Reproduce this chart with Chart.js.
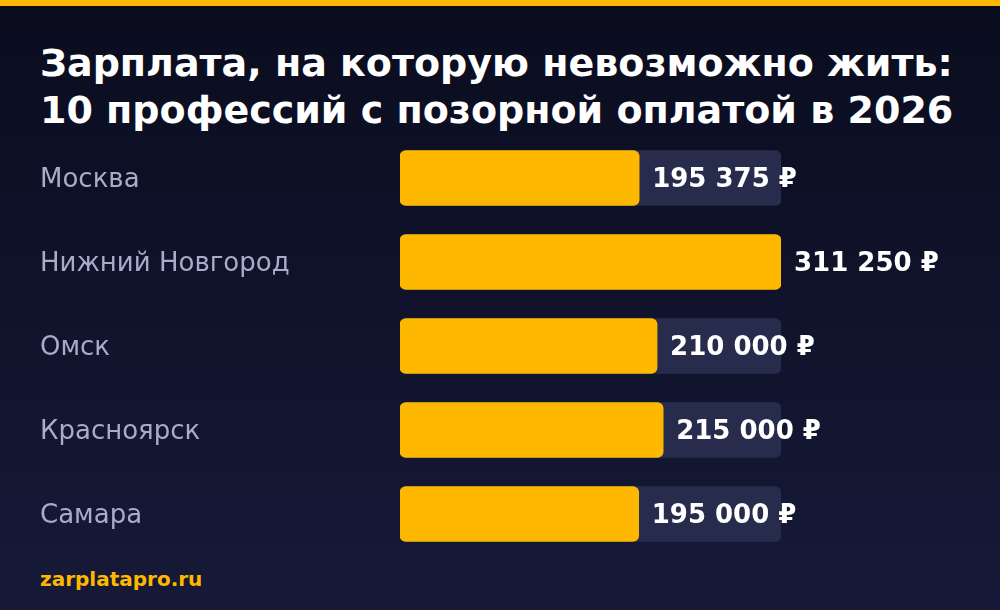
<!DOCTYPE html>
<html><head><meta charset="utf-8">
<script src="https://cdn.jsdelivr.net/npm/chart.js@4/dist/chart.umd.min.js"></script>
<style>
html,body{margin:0;padding:0;width:1000px;height:610px;overflow:hidden;}
body{background:linear-gradient(#0a0c1e,#161a38);position:relative;font-family:"DejaVu Sans",sans-serif;}
#top{position:absolute;left:0;top:0;width:1000px;height:6px;background:#ffb800;}
#title{position:absolute;left:40px;top:40px;color:#fff;font-weight:bold;font-size:38px;line-height:47px;white-space:nowrap;}
#foot{position:absolute;left:40px;top:567px;color:#ffb800;font-weight:bold;font-size:20px;}
#wrap{position:absolute;left:0;top:0;width:1000px;height:610px;}
</style></head><body>
<div id="top"></div>
<div id="title">Зарплата, на которую невозможно жить:<br>10 профессий с позорной оплатой в 2026</div>
<div id="foot">zarplatapro.ru</div>
<div id="wrap"><canvas id="c"></canvas></div>
<script>
const categories=["Москва","Нижний Новгород","Омск","Красноярск","Самара"];
const values=[195375,311250,210000,215000,195000];
const valueLabels=["195 375 ₽","311 250 ₽","210 000 ₽","215 000 ₽","195 000 ₽"];
const maxVal=Math.max(...values);
const track=categories.map(()=>maxVal);
const textPlugin={id:'txt',afterDatasetsDraw(chart){
 const ctx=chart.ctx,y=chart.scales.y,x=chart.scales.x;
 ctx.save();ctx.textBaseline='middle';
 categories.forEach((c,i)=>{
  const py=y.getPixelForValue(i);
  ctx.fillStyle='#a9abc8';ctx.font='26px "DejaVu Sans"';ctx.textAlign='left';
  ctx.fillText(c,40,py+2);
  ctx.fillStyle='#fff';ctx.font='bold 26px "DejaVu Sans"';
  ctx.fillText(valueLabels[i],x.getPixelForValue(values[i])+13,py+2);
 });
 ctx.restore();}};
new Chart(document.getElementById('c'),{type:'bar',
 data:{labels:categories,datasets:[
  {data:values,backgroundColor:'#ffb800',borderRadius:6,borderSkipped:false,barThickness:55,grouped:false,order:1},
  {data:track,backgroundColor:'#272c4c',borderRadius:6,borderSkipped:false,barThickness:55,grouped:false,order:2}]},
 options:{indexAxis:'y',responsive:true,maintainAspectRatio:false,animation:false,
  layout:{padding:{left:400,right:219,top:136,bottom:54}},
  plugins:{legend:{display:false},tooltip:{enabled:false}},
  scales:{x:{display:false,min:0,max:maxVal},y:{display:false}}},
 plugins:[textPlugin]});
</script></body></html>
